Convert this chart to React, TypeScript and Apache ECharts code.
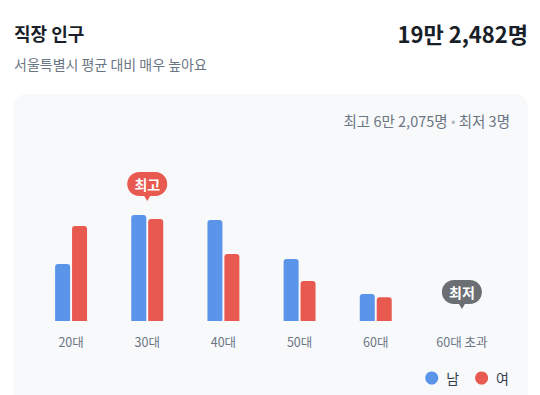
import React, { useEffect, useRef } from "react";
import * as echarts from "echarts";

const categories = ["20대", "30대", "40대", "50대", "60대", "60대 초과"];
const seriesNames = ["남", "여"];
const maleValues = [17010, 31634, 30140, 18500, 8060, 2];
const femaleValues = [28350, 30441, 19990, 11940, 7070, 1];
const titleText = "직장 인구";
const totalText = "19만 2,482명";
const subtitleText = "서울특별시 평균 대비 매우 높아요";
const maxText = "최고 6만 2,075명";
const minText = "최저 3명";
const highLabel = "최고";
const lowLabel = "최저";

const FONT = "'Noto Sans CJK KR', 'Noto Sans', sans-serif";
const BLUE = "#5b95e9";
const RED = "#e8594f";
const GRAY_BUBBLE = "#6b6e73";
const BUBBLE =
  "path://M12,0 H28 C34.63,0 40,5.37 40,12 C40,18.63 34.63,24 28,24 H23 L20,29 L17,24 H12 C5.37,24 0,18.63 0,12 C0,5.37 5.37,0 12,0 Z";

export default function App() {
  const ref = useRef<HTMLDivElement>(null);

  useEffect(() => {
    if (!ref.current) return;
    const chart = echarts.init(ref.current, undefined, { renderer: "svg" });

    const totals = categories.map((_, i) => maleValues[i] + femaleValues[i]);
    const maxIdx = totals.indexOf(Math.max(...totals));
    const minIdx = totals.indexOf(Math.min(...totals));
    const lastIdx = categories.length - 1;

    const bubbleData = categories.map((_, i) => {
      const top = Math.max(maleValues[i], femaleValues[i]);
      if (i === maxIdx) {
        return {
          value: top,
          symbolOffset: [i === lastIdx ? 10 : 0, -28.5],
          itemStyle: { color: RED, opacity: 1 },
          label: { formatter: highLabel },
        };
      }
      if (i === minIdx) {
        return {
          value: top,
          symbolOffset: [i === lastIdx ? 10 : 0, -26.5],
          itemStyle: { color: GRAY_BUBBLE, opacity: 1 },
          label: { formatter: lowLabel },
        };
      }
      return "-";
    });

    chart.setOption({
      animation: false,
      backgroundColor: "#ffffff",
      textStyle: { fontFamily: FONT },
      graphic: [
        {
          type: "rect",
          z: -10,
          shape: { x: 13, y: 94, width: 515, height: 340, r: 14 },
          style: { fill: "#f8f9fb" },
        },
        {
          type: "text",
          x: 14,
          y: 33,
          style: {
            text: titleText,
            fontFamily: FONT,
            fontSize: 18,
            fontWeight: "bold",
            fill: "#191f28",
            textVerticalAlign: "middle",
          },
        },
        {
          type: "text",
          x: 528,
          y: 33,
          style: {
            text: totalText,
            fontFamily: FONT,
            fontSize: 22,
            fontWeight: "bold",
            fill: "#191f28",
            textAlign: "right",
            textVerticalAlign: "middle",
          },
        },
        {
          type: "text",
          x: 14,
          y: 64,
          style: {
            text: subtitleText,
            fontFamily: FONT,
            fontSize: 14,
            fill: "#6b7684",
            textVerticalAlign: "middle",
          },
        },
        {
          type: "text",
          x: 510,
          y: 120,
          style: {
            text: `{a|${maxText}} {d|•} {a|${minText}}`,
            textAlign: "right",
            textVerticalAlign: "middle",
            rich: {
              a: { fontFamily: FONT, fontSize: 14.5, fill: "#6b7684" },
              d: { fontFamily: FONT, fontSize: 13, fill: "#b0b8c1" },
            },
          },
        },
      ],
      legend: {
        data: seriesNames,
        right: 26,
        top: 366,
        icon: "circle",
        itemWidth: 13,
        itemHeight: 13,
        itemGap: 16,
        textStyle: { fontFamily: FONT, fontSize: 14, color: "#333d4b", padding: [0, 0, 0, 3] },
      },
      grid: { left: 33, right: 50, top: 120, bottom: 74 },
      xAxis: {
        type: "category",
        data: categories,
        axisLine: { show: false },
        axisTick: { show: false },
        axisLabel: {
          interval: 0,
          margin: 14,
          color: "#6b7684",
          fontSize: 12.5,
          fontFamily: FONT,
          formatter: (v: string, i: number) => (i === lastIdx ? `{s|${v}}` : v),
          rich: {
            s: { padding: [0, 0, 0, 20], color: "#6b7684", fontSize: 12.5, fontFamily: FONT },
          },
        },
      },
      yAxis: { type: "value", min: 0, max: 60000, show: false, splitLine: { show: false } },
      series: [
        {
          name: seriesNames[0],
          type: "bar",
          data: maleValues,
          barWidth: 15,
          barGap: "13%",
          itemStyle: { color: BLUE, borderRadius: [3, 3, 0, 0] },
        },
        {
          name: seriesNames[1],
          type: "bar",
          data: femaleValues,
          barWidth: 15,
          barGap: "13%",
          itemStyle: { color: RED, borderRadius: [3, 3, 0, 0] },
        },
        {
          name: "bubble",
          type: "scatter",
          data: bubbleData,
          symbol: BUBBLE,
          symbolSize: [40, 29],
          z: 5,
          silent: true,
          label: {
            show: true,
            position: "inside",
            offset: [0, -2.5],
            color: "#ffffff",
            fontSize: 14,
            fontWeight: "bold",
            fontFamily: FONT,
          },
        },
      ],
    });

    return () => chart.dispose();
  }, []);

  return (
    <div
      ref={ref}
      style={{ position: "fixed", left: 0, top: 0, width: 540, height: 395 }}
    />
  );
}
